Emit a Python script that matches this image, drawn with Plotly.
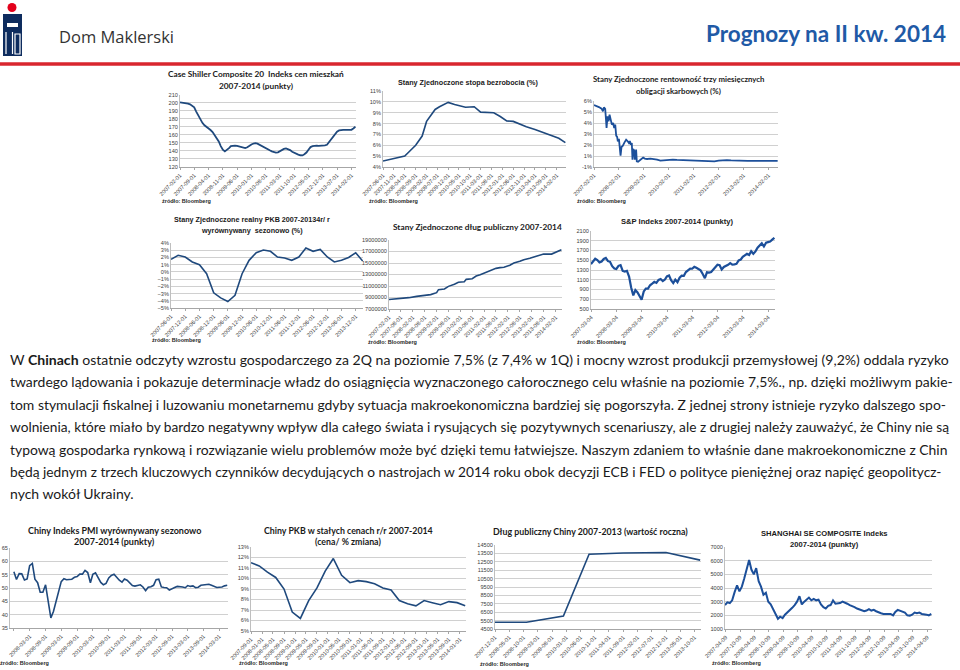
import plotly.graph_objects as go
import pandas as pd

W, H = 960, 670

# ------------------------------------------------------------------ data
# Case Shiller Composite 20 (monthly from 2007-02)
cs_dates = pd.date_range("2007-02-01", periods=87, freq="MS")
cs_values = [200.5, 200.3, 200.0, 199.7, 199.0, 198.0, 196.5, 194.3, 189.0, 184.0,
             179.5, 175.0, 172.0, 170.3, 168.3, 166.0, 163.5, 160.0, 155.5, 151.8,
             146.0, 141.5, 139.4, 141.0, 143.5, 146.0, 146.8, 146.7, 146.4, 145.8,
             144.9, 144.0, 143.5, 144.5, 146.5, 148.0, 149.2, 149.7, 149.0, 147.5,
             146.4, 145.0, 143.5, 142.3, 140.8, 139.5, 138.5, 138.0, 138.2, 139.8,
             141.5, 142.5, 143.1, 142.5, 141.0, 139.0, 137.5, 136.3, 135.5, 134.6,
             134.4, 135.8, 138.0, 141.5, 144.8, 146.0, 146.6, 146.6, 146.4, 146.4,
             146.4, 147.0, 147.7, 150.5, 153.8, 157.5, 161.0, 164.0, 165.5, 166.2,
             166.3, 166.2, 166.2, 166.2, 166.3, 168.0, 170.0]

# US unemployment rate (%)
un_dates = ["2007-06-01", "2007-11-01", "2008-04-01", "2008-06-01", "2008-09-01",
            "2008-12-01", "2009-02-01", "2009-06-01", "2009-08-01", "2009-12-01",
            "2010-03-01", "2010-08-01", "2010-12-01", "2011-03-01", "2011-05-01",
            "2011-09-01", "2011-12-01", "2012-03-01", "2012-06-01", "2012-09-01",
            "2012-12-01", "2013-04-01", "2013-08-01", "2013-12-01", "2014-03-01",
            "2014-06-01"]
un_values = [4.55, 4.8, 5.0, 5.4, 6.0, 6.85, 8.2, 9.3, 9.55, 9.95, 9.75, 9.5, 9.55,
             9.05, 9.05, 9.0, 8.65, 8.25, 8.2, 7.95, 7.7, 7.45, 7.15, 6.9, 6.65, 6.25]

# US 3M T-bill yield (%)
tb_dates = ["2007-02-01", "2007-03-15", "2007-04-14", "2007-05-23", "2007-06-12",
            "2007-06-26", "2007-07-15", "2007-07-25", "2007-08-04", "2007-08-18",
            "2007-09-02", "2007-09-17", "2007-10-06", "2007-10-21", "2007-11-09",
            "2007-11-24", "2007-12-09", "2007-12-23", "2008-01-06", "2008-01-16",
            "2008-02-01", "2008-02-15", "2008-02-25", "2008-03-10", "2008-03-30",
            "2008-04-23", "2008-05-17", "2008-06-06", "2008-06-26", "2008-07-10",
            "2008-07-25", "2008-08-08", "2008-08-18", "2008-08-28", "2008-09-11",
            "2008-09-21", "2008-10-01", "2008-10-10", "2008-10-20", "2008-11-08",
            "2008-11-28", "2008-12-27", "2009-01-21", "2009-02-14", "2009-03-20",
            "2009-05-08", "2009-06-26", "2009-08-13", "2009-10-01", "2009-11-19",
            "2010-02-01", "2010-04-01", "2010-06-01", "2010-08-01", "2010-10-01",
            "2010-12-01", "2011-02-01", "2011-04-01", "2011-06-01", "2011-08-01",
            "2011-10-01", "2011-12-01", "2012-02-01", "2012-04-01", "2012-06-01",
            "2012-08-01", "2012-10-01", "2012-12-01", "2013-02-01", "2013-04-01",
            "2013-06-01", "2013-08-01", "2013-10-01", "2013-12-01", "2014-02-01",
            "2014-04-01", "2014-06-15"]
tb_values = [5.64, 5.55, 5.45, 5.3, 5.06, 5.42, 5.28, 4.45, 3.55, 4.6,
             4.15, 4.75, 4.3, 3.85, 4.0, 3.55, 3.85, 2.85, 2.73, 2.33,
             2.55, 1.73, 1.03, 1.82, 1.94, 2.24, 2.48, 2.36, 2.18, 2.36,
             2.03, 2.18, 0.67, 1.64, 1.52, 0.67, 0.9, 1.58, 0.52, 0.48,
             0.58, 0.73, 0.85, 0.76, 0.73, 0.76, 0.73, 0.67, 0.58, 0.61,
             0.67, 0.67, 0.64, 0.62, 0.64, 0.64, 0.6, 0.55, 0.52, 0.52,
             0.5, 0.52, 0.58, 0.62, 0.62, 0.6, 0.6, 0.58, 0.62, 0.56,
             0.55, 0.56, 0.58, 0.55, 0.57, 0.55, 0.55]
tb_ticktext = ["-1%", "1%", "2%", "3%", "4%", "5%", "6%"]

# US real GDP y/y (%), quarterly from 2007-06
gdp_dates = pd.date_range("2007-06-01", periods=28, freq="3MS")
gdp_values = [1.74, 2.3, 2.06, 1.37, 1.0, -0.25, -2.9, -3.6, -4.1, -3.25,
              -0.25, 1.6, 2.66, 3.03, 2.85, 2.06, 1.92, 1.6, 2.06, 3.3,
              2.85, 3.12, 2.06, 1.37, 1.6, 2.0, 2.65, 1.5]

# US public debt
debt_dates = ["2007-02-01", "2007-07-01", "2007-12-01", "2008-04-01", "2008-08-01",
              "2008-11-01", "2009-02-01", "2009-03-01", "2009-06-01", "2009-08-01",
              "2009-11-01", "2010-01-01", "2010-04-01", "2010-05-01", "2010-08-01",
              "2010-10-01", "2010-12-01", "2011-03-01", "2011-05-01", "2011-08-01",
              "2011-10-01", "2011-12-01", "2012-03-01", "2012-05-01", "2012-08-01",
              "2012-10-01", "2013-01-01", "2013-03-01", "2013-06-01", "2013-08-01",
              "2013-12-01", "2014-02-01", "2014-03-01", "2014-05-01"]
debt_values = [8650000, 8760000, 8970000, 9200000, 9430000, 9500000, 9840000,
               10360000, 10480000, 10940000, 11290000, 11640000, 11750000, 12160000,
               12270000, 12740000, 12970000, 13380000, 13780000, 14070000, 14190000,
               14250000, 14600000, 15000000, 15290000, 15580000, 15810000, 16040000,
               16330000, 16570000, 16550000, 16910000, 17090000, 17300000]

# S&P 500 (monthly from 2007-03)
sp_dates = pd.date_range("2007-03-01", periods=88, freq="MS")
sp_values = [1420, 1482, 1530, 1503, 1455, 1474, 1527, 1549, 1481, 1468,
             1378, 1330, 1322, 1386, 1400, 1280, 1267, 1283, 1165, 940, 780, 890,
             840, 760, 690, 860, 919, 919, 987, 1021, 1057, 1036, 1096, 1115,
             1074, 1104, 1169, 1187, 1089, 1031, 1102, 1049, 1141, 1183, 1181, 1258,
             1286, 1327, 1326, 1364, 1345, 1321, 1292, 1219, 1131, 1253, 1247, 1258,
             1312, 1366, 1408, 1398, 1310, 1362, 1379, 1407, 1441, 1412, 1416, 1426,
             1498, 1515, 1569, 1598, 1631, 1606, 1686, 1633, 1682, 1757, 1806, 1848,
             1783, 1859, 1872, 1884, 1924, 1960]

# China PMI (monthly from 2007-09)
pmi_dates = pd.date_range("2007-09-01", periods=82, freq="MS")
pmi_values = [56.1, 53.2, 55.4, 55.3,
              53.0, 53.4, 58.4, 59.2, 53.3, 52.0, 48.4, 48.4, 51.2, 44.6, 38.8, 41.2,
              45.3, 49.0, 52.4, 53.5, 53.1, 53.2, 53.3, 54.0, 54.3, 55.2, 55.2, 56.6,
              55.8, 52.0, 55.1, 55.7, 53.9, 52.1, 51.2, 51.7, 53.8, 54.7, 55.2, 53.9,
              52.9, 52.2, 53.4, 52.9, 52.0, 50.9, 50.7, 50.9, 51.2, 50.4, 49.0, 50.3,
              50.5, 51.0, 53.1, 53.3, 50.4, 50.2, 50.1, 49.2, 49.8, 50.2, 50.6, 50.6,
              50.4, 50.1, 50.9, 50.6, 50.8, 50.1, 50.3, 51.0, 51.1, 51.4, 51.4, 51.0,
              50.5, 50.2, 50.3, 50.4, 50.8, 51.0]

# China GDP y/y (%), quarterly from 2007-09
cgdp_dates = pd.date_range("2007-09-01", periods=27, freq="3MS")
cgdp_values = [11.5, 11.2, 10.6, 10.1, 9.0, 6.8, 6.2, 7.9, 9.1, 10.7, 11.9, 10.3,
               9.6, 9.8, 9.7, 9.5, 9.1, 8.9, 7.9, 7.6, 7.4, 7.9, 7.7, 7.5, 7.8,
               7.7, 7.4]

# China public debt
cd_dates = ["2007-12-01", "2008-11-01", "2009-12-01", "2010-09-01", "2011-09-01",
            "2012-12-01", "2013-12-01"]
cd_values = [5300, 5300, 6050, 13400, 13550, 13600, 12700]

# Shanghai SE Composite (monthly from 2007-04)
sh_dates = pd.date_range("2007-04-01", periods=87, freq="MS")
sh_values = [2750, 2950, 2900, 3100, 3700, 4200, 3750, 4100, 4700, 5300,
             6050, 5350, 5000, 5450, 4500, 4100, 3500, 3650, 3000, 2800,
             2450, 2100, 1750, 1900, 1800, 2050, 2200, 2400, 2550, 2750,
             3000, 3400, 2800, 3000, 3200, 3300, 3100, 3200, 3100, 3150,
             2800, 2600, 2500, 2700, 2750, 3100, 2850, 2850, 2900, 3000,
             2950, 2850, 2750, 2700, 2600, 2500, 2450, 2350, 2300, 2350,
             2450, 2350, 2400, 2300, 2200, 2150, 2100, 2100, 2050, 2100,
             2000, 2250, 2400, 2350, 2250, 2200, 2000, 1980, 2050, 2200,
             2150, 2200, 2100, 2050, 2050, 2000, 2100]

paragraph = [
    "W <b>Chinach</b> ostatnie odczyty wzrostu gospodarczego za 2Q na poziomie 7,5% (z 7,4% w 1Q) i mocny wzrost produkcji przemysłowej (9,2%) oddala ryzyko",
    "twardego lądowania i pokazuje determinacje władz do osiągnięcia wyznaczonego całorocznego celu właśnie na poziomie 7,5%., np. dzięki możliwym pakie-",
    "tom stymulacji fiskalnej i luzowaniu monetarnemu gdyby sytuacja makroekonomiczna bardziej się pogorszyła. Z jednej strony istnieje ryzyko dalszego spo-",
    "wolnienia, które miało by bardzo negatywny wpływ dla całego świata i rysujących się pozytywnych scenariuszy, ale z drugiej należy zauważyć, że Chiny nie są",
    "typową gospodarka rynkową i rozwiązanie wielu problemów może być dzięki temu łatwiejsze. Naszym zdaniem to właśnie dane makroekonomiczne z Chin",
    "będą jednym z trzech kluczowych czynników decydujących o nastrojach w 2014 roku obok decyzji ECB i FED o polityce pieniężnej oraz napięć geopolitycz-",
    "nych wokół Ukrainy.",
]

# ------------------------------------------------------------------ helpers
def fx(p):
    return p / W


def fy(p):
    return 1 - p / H


CAL = "Lato"
ARI = "Liberation Sans"
LINE = "#1f497d"
LINE2 = "#1c4f9a"

panels = [
    dict(x=cs_dates, y=cs_values, box=(180, 356, 94.7, 167),
         xr=("2007-02-01", "2014-04-10"), tick0="2007-02-01", dtick="M7",
         yr=(120, 210), ydt=10, suf="", col=LINE, w=1.8),
    dict(x=un_dates, y=un_values, box=(383, 566, 91, 167),
         xr=("2007-06-01", "2014-06-10"), tick0="2007-06-01", dtick="M5",
         yr=(4, 11), ydt=1, suf="%", col=LINE, w=1.6),
    dict(x=tb_dates, y=tb_values, box=(594, 778, 101, 167),
         xr=("2007-02-01", "2014-06-20"), tick0="2007-02-01", dtick="M12",
         yr=(0, 6), ydt=1, suf="", col=LINE2, w=1.8, ticktext=tb_ticktext),
    dict(x=gdp_dates, y=gdp_values, box=(171, 363, 243, 308),
         xr=("2007-06-01", "2014-03-05"), tick0="2007-06-01", dtick="M6",
         yr=(-5, 4), ydt=1, suf="%", col=LINE, w=1.6),
    dict(x=debt_dates, y=debt_values, box=(389, 562, 240, 309),
         xr=("2007-02-01", "2014-05-10"), tick0="2007-02-01", dtick="M6",
         yr=(7000000, 19000000), ydt=2000000, suf="", col=LINE, w=1.6),
    dict(x=sp_dates, y=sp_values, box=(591, 775, 231, 309),
         xr=("2007-03-01", "2014-06-10"), tick0="2007-03-04", dtick="M12",
         yr=(500, 2100), ydt=200, suf="", col=LINE2, w=2.2),
    dict(x=pmi_dates, y=pmi_values, box=(10, 228, 548, 628),
         xr=("2007-07-18", "2014-06-10"), tick0="2007-09-01", dtick="M6",
         yr=(35, 65), ydt=5, suf="", col=LINE, w=1.6),
    dict(x=cgdp_dates, y=cgdp_values, box=(251, 466, 547, 631),
         xr=("2007-09-01", "2014-03-10"), tick0="2007-09-01", dtick="M4",
         yr=(5, 13), ydt=1, suf="%", col=LINE, w=1.6),
    dict(x=cd_dates, y=cd_values, box=(495, 701, 545, 629),
         xr=("2007-12-01", "2013-12-10"), tick0="2007-12-01", dtick="M5",
         yr=(4500, 14500), ydt=1000, suf="", col=LINE, w=1.6),
    dict(x=sh_dates, y=sh_values, box=(725, 932, 547, 629),
         xr=("2007-04-01", "2014-06-10"), tick0="2007-04-09", dtick="M6",
         yr=(1000, 7000), ydt=1000, suf="", col=LINE2, w=2.0),
]

titles = [
    (["Case Shiller Composite 20  Indeks cen mieszkań", "2007-2014 (punkty)"], 256, [74, 86], CAL, 8.3),
    (["Stany Zjednoczone stopa bezrobocia (%)"], 468, [82], ARI, 7.2),
    (["Stany Zjednoczone rentowność trzy miesięcznych", "obligacji skarbowych (%)"], 678, [79, 91], CAL, 7.8),
    (["Stany Zjednoczone realny PKB 2007-20134r/ r", "wyrównywany  sezonowo (%)"], 252, [219, 230], ARI, 7.2),
    (["Stany Zjednoczone dług publiczny 2007-2014"], 477, [227], CAL, 8.3),
    (["S&P Indeks 2007-2014 (punkty)"], 677, [221], ARI, 7.6),
    (["Chiny Indeks PMI wyrównywany sezonowo", "2007-2014 (punkty)"], 114, [530, 541], CAL, 9.0),
    (["Chiny PKB w stałych cenach r/r 2007-2014", "(cena/ % zmiana)"], 348, [530, 541.5], CAL, 8.8),
    (["Dług publiczny Chiny 2007-2013 (wartość roczna)"], 590, [531], CAL, 8.8),
    (["SHANGHAI SE COMPOSITE Indeks", "2007-2014 (punkty)"], 824, [533, 544], ARI, 7.6),
]

sources = [(160, 201), (367, 201), (575, 201), (150, 340), (366, 342), (575, 342),
           (-2, 663), (237, 663), (478, 664), (710, 663)]

# per-line font size so every full line spans the text column (justified look)
para_sizes = [14.07, 13.95, 13.95, 13.71, 13.93, 13.76, 14.0]
para_y = [359, 381.5, 404, 426.5, 449, 471.5, 494]

fig = go.Figure()
layout = dict(width=W, height=H, margin=dict(l=0, r=0, t=0, b=0, autoexpand=False),
              paper_bgcolor="white", plot_bgcolor="white", showlegend=False,
              template="none")

for i, p in enumerate(panels, start=1):
    xn = "x" if i == 1 else f"x{i}"
    yn = "y" if i == 1 else f"y{i}"
    x0, x1, yt, yb = p["box"]
    fig.add_trace(go.Scatter(x=p["x"], y=p["y"], mode="lines", xaxis=xn, yaxis=yn,
                             line=dict(color=p["col"], width=p["w"]), hoverinfo="skip"))
    layout["xaxis" if i == 1 else f"xaxis{i}"] = dict(
        domain=[fx(x0), fx(x1)], anchor=yn, type="date", range=list(p["xr"]),
        tick0=p["tick0"], dtick=p["dtick"], tickformat="%Y-%m-%d", tickangle=-45,
        tickfont=dict(family=ARI, size=5.6, color="#404040"), showgrid=False,
        showline=True, linecolor="#a6a6a6", linewidth=1, ticks="outside",
        ticklen=2, tickcolor="#a6a6a6", fixedrange=True, automargin=False)
    yax = dict(domain=[fy(yb), fy(yt)], anchor=xn, range=list(p["yr"]),
               dtick=p["ydt"], tick0=p["yr"][0], ticksuffix=p["suf"],
               tickformat="d", separatethousands=False,
               tickfont=dict(family=ARI, size=5.6, color="#404040"),
               showgrid=True, gridcolor="#d0d0d0", gridwidth=1, zeroline=False,
               showline=True, linecolor="#bfbfbf", linewidth=1, ticks="",
               fixedrange=True, automargin=False)
    if "ticktext" in p:
        yax["tickmode"] = "array"
        yax["tickvals"] = list(range(len(p["ticktext"])))
        yax["ticktext"] = p["ticktext"]
    layout["yaxis" if i == 1 else f"yaxis{i}"] = yax

ann = []
for lines, cx, ys, fam, size in titles:
    for t, yy in zip(lines, ys):
        ann.append(dict(text=f"<b>{t}</b>", x=fx(cx), y=fy(yy), xref="paper", yref="paper",
                        xanchor="center", yanchor="middle", showarrow=False,
                        font=dict(family=fam, size=size, color="#1a1a1a")))
for sx, sy in sources:
    ann.append(dict(text="<b>źródło: Bloomberg</b>", x=fx(sx), y=fy(sy), xref="paper",
                    yref="paper", xanchor="left", yanchor="middle", showarrow=False,
                    font=dict(family=ARI, size=5.5, color="#262626")))

for t, yy, sz in zip(paragraph, para_y, para_sizes):
    ann.append(dict(text=t, x=fx(8), y=fy(yy), xref="paper", yref="paper",
                    xanchor="left", yanchor="middle", showarrow=False,
                    font=dict(family=CAL, size=sz, color="#1a1a1a")))

# header
ann.append(dict(text="Dom Maklerski", x=fx(57), y=fy(37), xref="paper", yref="paper",
                xanchor="left", yanchor="middle", showarrow=False,
                font=dict(family="Open Sans", size=16.5, color="#333333")))
ann.append(dict(text="<b>Prognozy na II kw. 2014</b>", x=fx(948), y=fy(34), xref="paper",
                yref="paper", xanchor="right", yanchor="middle", showarrow=False,
                font=dict(family=CAL, size=22.5, color="#1f5aa6")))

shapes = [
    dict(type="line", xref="paper", yref="paper", x0=0, x1=1, y0=fy(64), y1=fy(64),
         line=dict(color="#d9262e", width=3.5)),
    dict(type="circle", xref="paper", yref="paper", x0=fx(7.5), x1=fx(16.5),
         y0=fy(12), y1=fy(3), fillcolor="#e3001b", line=dict(width=0)),
    dict(type="rect", xref="paper", yref="paper", x0=fx(3), x1=fx(22),
         y0=fy(56), y1=fy(14), fillcolor="#0e2c5e", line=dict(width=0)),
    dict(type="rect", xref="paper", yref="paper", x0=fx(7), x1=fx(18),
         y0=fy(27), y1=fy(23), fillcolor="white", line=dict(width=0)),
    dict(type="line", xref="paper", yref="paper", x0=fx(12.5), x1=fx(12.5),
         y0=fy(54), y1=fy(32), line=dict(color="white", width=1.2)),
    dict(type="line", xref="paper", yref="paper", x0=fx(6), x1=fx(6),
         y0=fy(54), y1=fy(32), line=dict(color="white", width=1.2)),
    dict(type="rect", xref="paper", yref="paper", x0=fx(15), x1=fx(20),
         y0=fy(54), y1=fy(34), line=dict(color="white", width=1.2)),
]

layout["annotations"] = ann
layout["shapes"] = shapes
fig.update_layout(**layout)
fig.write_html("out.html", config={"displayModeBar": False, "staticPlot": True},
               post_script="document.body.style.margin='0';")
